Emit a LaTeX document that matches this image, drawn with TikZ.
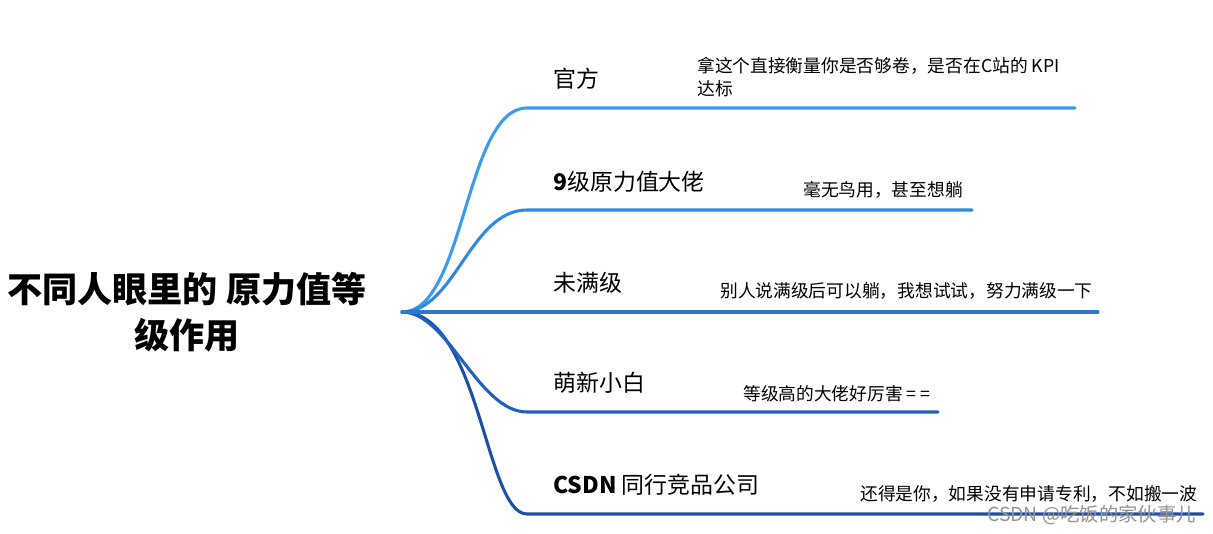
\documentclass[tikz,border=0pt]{standalone}
\usepackage{fontspec}
\setmainfont{Noto Sans CJK SC}
\begin{document}
\begin{tikzpicture}[x=0.75pt,y=-0.75pt,
  br/.style={line width=2.3pt, line cap=round},
  lab/.style={anchor=west, inner sep=0pt, font=\fontsize{17.2}{19}\selectfont},
  note/.style={anchor=west, inner sep=0pt, align=left, font=\fontsize{13.3}{17.5}\selectfont},
  wm/.style={anchor=west, inner sep=0pt, text=black!42, font=\fontsize{14.5}{16}\selectfont}]
\definecolor{c1}{HTML}{3A9CEA}
\definecolor{c2}{HTML}{2E8AE0}
\definecolor{c3}{HTML}{2A78D0}
\definecolor{c4}{HTML}{2160BC}
\definecolor{c5}{HTML}{1D4FA6}
\useasboundingbox[fill=white] (0,0) rectangle (1213,534);
% root
\node[align=center, inner sep=0pt, font=\bfseries\fontsize{26.3}{35}\selectfont] (title) at (187,312) {不同人眼里的 原力值等\\级作用};
\coordinate (root) at (402,312);
% branch starts / ends
\coordinate (s1) at (527,108); \coordinate (e1) at (1075,108);
\coordinate (s2) at (527,210); \coordinate (e2) at (972,210);
\coordinate (e3) at (1098,312);
\coordinate (s4) at (527,412); \coordinate (e4) at (938,412);
\coordinate (s5) at (527,514); \coordinate (e5) at (1203,514);
% connectors
\draw[br,c5] (root) .. controls (480,312) and (485,514) .. (s5) -- (e5);
\draw[br,c4] (root) .. controls (448,312) and (478,412) .. (s4) -- (e4);
\draw[br,c1] (root) .. controls (465,312) and (465,108) .. (s1) -- (e1);
\draw[br,c2] (root) .. controls (455,312) and (470,210) .. (s2) -- (e2);
\draw[br,c3] (root) -- (e3);
% labels
\node[lab] (l1) at (553,79) {官方};
\node[lab] (l2) at (553,182) {\textbf{9}级原力值大佬};
\node[lab] (l3) at (553,283) {未满级};
\node[lab] (l4) at (553,383) {萌新小白};
\node[lab] (l5) at (553,485) {\textbf{CSDN} 同行竞品公司};
% notes
\node[note] (n1) at (697,77) {拿这个直接衡量你是否够卷，是否在C站的 KPI\\达标};
\node[note] (n2) at (803,190) {毫无鸟用，甚至想躺};
\node[note] (n3) at (720,291) {别人说满级后可以躺，我想试试，努力满级一下};
\node[note] (n4) at (743,394) {等级高的大佬好厉害 = =};
\node[note] (n5) at (860,494) {还得是你，如果没有申请专利，不如搬一波};
% watermark
\node[wm] (wm) at (987,515) {CSDN @吃饭的家伙事儿};
\end{tikzpicture}
\end{document}
